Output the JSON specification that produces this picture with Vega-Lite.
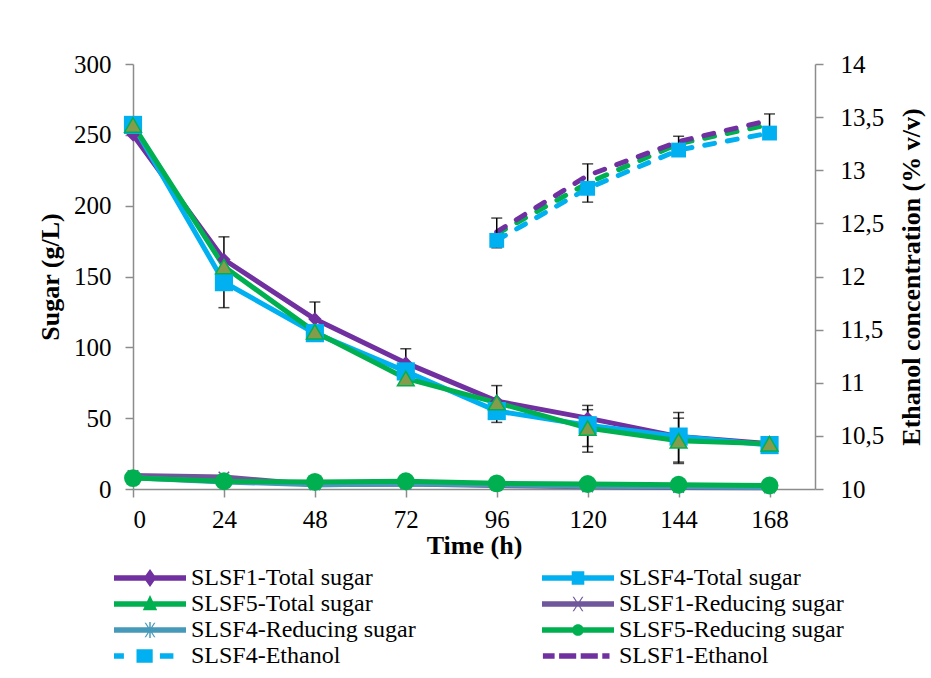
{
  "$schema": "https://vega.github.io/schema/vega-lite/v6.json",
  "width": 682,
  "height": 425,
  "autosize": {"type": "none"},
  "padding": {"left": 133, "top": 64, "right": 116, "bottom": 189},
  "background": "white",
  "config": {
    "view": {"stroke": null},
    "font": "Times New Roman, Liberation Serif, serif",
    "axis": {
      "grid": false,
      "domainColor": "#8c8c8c",
      "domainWidth": 1.5,
      "tickColor": "#8c8c8c",
      "tickWidth": 1.5,
      "tickSize": 8,
      "labelFont": "Times New Roman, Liberation Serif, serif",
      "labelFontSize": 25,
      "labelColor": "black",
      "titleFont": "Times New Roman, Liberation Serif, serif",
      "titleFontSize": 26,
      "titleFontWeight": "bold",
      "titleColor": "black",
      "titleLimit": 1000
    },
    "legend": {
      "orient": "none",
      "legendX": 5,
      "legendY": 502,
      "columns": 2,
      "columnPadding": 126,
      "rowPadding": 2,
      "padding": 0,
      "labelFont": "Times New Roman, Liberation Serif, serif",
      "labelFontSize": 24,
      "labelColor": "black",
      "labelOffset": 29,
      "labelLimit": 500,
      "symbolSize": 324,
      "symbolStrokeWidth": 0
    }
  },
  "datasets": {
    "sugar": [
      {"t": 0, "s": "SLSF1-Total sugar", "v": 250},
      {"t": 24, "s": "SLSF1-Total sugar", "v": 162},
      {"t": 48, "s": "SLSF1-Total sugar", "v": 120},
      {"t": 72, "s": "SLSF1-Total sugar", "v": 89},
      {"t": 96, "s": "SLSF1-Total sugar", "v": 62},
      {"t": 120, "s": "SLSF1-Total sugar", "v": 50},
      {"t": 144, "s": "SLSF1-Total sugar", "v": 37},
      {"t": 168, "s": "SLSF1-Total sugar", "v": 32},
      {"t": 0, "s": "SLSF4-Total sugar", "v": 257},
      {"t": 24, "s": "SLSF4-Total sugar", "v": 146},
      {"t": 48, "s": "SLSF4-Total sugar", "v": 110},
      {"t": 72, "s": "SLSF4-Total sugar", "v": 83},
      {"t": 96, "s": "SLSF4-Total sugar", "v": 55},
      {"t": 120, "s": "SLSF4-Total sugar", "v": 45},
      {"t": 144, "s": "SLSF4-Total sugar", "v": 37},
      {"t": 168, "s": "SLSF4-Total sugar", "v": 31},
      {"t": 0, "s": "SLSF5-Total sugar", "v": 257},
      {"t": 24, "s": "SLSF5-Total sugar", "v": 157},
      {"t": 48, "s": "SLSF5-Total sugar", "v": 111},
      {"t": 72, "s": "SLSF5-Total sugar", "v": 78},
      {"t": 96, "s": "SLSF5-Total sugar", "v": 61},
      {"t": 120, "s": "SLSF5-Total sugar", "v": 43},
      {"t": 144, "s": "SLSF5-Total sugar", "v": 34},
      {"t": 168, "s": "SLSF5-Total sugar", "v": 32},
      {"t": 0, "s": "SLSF1-Reducing sugar", "v": 9.5},
      {"t": 24, "s": "SLSF1-Reducing sugar", "v": 8.5},
      {"t": 48, "s": "SLSF1-Reducing sugar", "v": 3},
      {"t": 72, "s": "SLSF1-Reducing sugar", "v": 3.5},
      {"t": 96, "s": "SLSF1-Reducing sugar", "v": 2.5},
      {"t": 120, "s": "SLSF1-Reducing sugar", "v": 1.5},
      {"t": 144, "s": "SLSF1-Reducing sugar", "v": 1},
      {"t": 168, "s": "SLSF1-Reducing sugar", "v": 0.8},
      {"t": 0, "s": "SLSF4-Reducing sugar", "v": 8},
      {"t": 24, "s": "SLSF4-Reducing sugar", "v": 5},
      {"t": 48, "s": "SLSF4-Reducing sugar", "v": 3},
      {"t": 72, "s": "SLSF4-Reducing sugar", "v": 3.5},
      {"t": 96, "s": "SLSF4-Reducing sugar", "v": 3},
      {"t": 120, "s": "SLSF4-Reducing sugar", "v": 2},
      {"t": 144, "s": "SLSF4-Reducing sugar", "v": 1.5},
      {"t": 168, "s": "SLSF4-Reducing sugar", "v": 1},
      {"t": 0, "s": "SLSF5-Reducing sugar", "v": 7.7},
      {"t": 24, "s": "SLSF5-Reducing sugar", "v": 5.5},
      {"t": 48, "s": "SLSF5-Reducing sugar", "v": 5},
      {"t": 72, "s": "SLSF5-Reducing sugar", "v": 5.5},
      {"t": 96, "s": "SLSF5-Reducing sugar", "v": 4},
      {"t": 120, "s": "SLSF5-Reducing sugar", "v": 3.5},
      {"t": 144, "s": "SLSF5-Reducing sugar", "v": 3},
      {"t": 168, "s": "SLSF5-Reducing sugar", "v": 2.5}
    ],
    "sugarErr": [
      {"t": 24, "lo": 128, "hi": 178},
      {"t": 48, "lo": 108, "hi": 132},
      {"t": 72, "lo": 78, "hi": 99},
      {"t": 96, "lo": 47, "hi": 73},
      {"t": 120, "lo": 26, "hi": 59},
      {"t": 120, "lo": 30, "hi": 56},
      {"t": 144, "lo": 18, "hi": 54},
      {"t": 144, "lo": 19, "hi": 50}
    ],
    "ethanol": [
      {"t": 96, "s": "SLSF4-Ethanol", "v": 12.34},
      {"t": 120, "s": "SLSF4-Ethanol", "v": 12.83},
      {"t": 144, "s": "SLSF4-Ethanol", "v": 13.19},
      {"t": 168, "s": "SLSF4-Ethanol", "v": 13.35},
      {"t": 96, "s": "SLSF5-Ethanol", "v": 12.4},
      {"t": 120, "s": "SLSF5-Ethanol", "v": 12.88},
      {"t": 144, "s": "SLSF5-Ethanol", "v": 13.25},
      {"t": 168, "s": "SLSF5-Ethanol", "v": 13.43},
      {"t": 96, "s": "SLSF1-Ethanol", "v": 12.42},
      {"t": 120, "s": "SLSF1-Ethanol", "v": 12.95},
      {"t": 144, "s": "SLSF1-Ethanol", "v": 13.27},
      {"t": 168, "s": "SLSF1-Ethanol", "v": 13.47}
    ],
    "ethErr": [
      {"t": 96, "lo": 12.27, "hi": 12.55},
      {"t": 120, "lo": 12.7, "hi": 13.06},
      {"t": 144, "lo": 13.2, "hi": 13.32},
      {"t": 168, "lo": 13.4, "hi": 13.53}
    ]
  },
  "layer": [
    {
      "layer": [
        {
          "data": {"name": "sugar"},
          "layer": [
            {
              "mark": {"type": "line", "strokeWidth": 5},
              "encoding": {
                "x": {"field": "t", "type": "quantitative", "scale": {"domain": [0, 168]},
                  "axis": {"values": [0, 24, 48, 72, 96, 120, 144, 168], "title": "Time (h)", "labelPadding": 10, "titlePadding": 0}},
                "y": {"field": "v", "type": "quantitative", "scale": {"domain": [0, 300]},
                  "axis": {"values": [0, 50, 100, 150, 200, 250, 300], "title": "Sugar (g/L)", "labelPadding": 14, "titlePadding": 10}},
                "stroke": {"field": "s", "type": "nominal", "legend": null,
                  "scale": {
                    "domain": ["SLSF1-Total sugar", "SLSF4-Total sugar", "SLSF5-Total sugar", "SLSF1-Reducing sugar", "SLSF4-Reducing sugar", "SLSF5-Reducing sugar", "SLSF1-Ethanol", "SLSF4-Ethanol", "SLSF5-Ethanol"],
                    "range": ["#7030A0", "#00B0F0", "#00B050", "#70569B", "#4699B8", "#00B050", "#7030A0", "#00B0F0", "#00B050"]
                  }}
              }
            },
            {
              "data": {"name": "sugarErr"},
              "mark": {"type": "rule", "color": "black", "strokeWidth": 1.5},
              "encoding": {
                "x": {"field": "t", "type": "quantitative"},
                "y": {"field": "lo", "type": "quantitative", "title": "Sugar (g/L)"},
                "y2": {"field": "hi"}
              }
            },
            {
              "data": {"name": "sugarErr"},
              "mark": {"type": "tick", "orient": "horizontal", "color": "black", "size": 11, "thickness": 1.5},
              "encoding": {
                "x": {"field": "t", "type": "quantitative"},
                "y": {"field": "lo", "type": "quantitative", "title": "Sugar (g/L)"}
              }
            },
            {
              "data": {"name": "sugarErr"},
              "mark": {"type": "tick", "orient": "horizontal", "color": "black", "size": 11, "thickness": 1.5},
              "encoding": {
                "x": {"field": "t", "type": "quantitative"},
                "y": {"field": "hi", "type": "quantitative", "title": "Sugar (g/L)"}
              }
            },
            {
              "transform": [{"filter": "datum.s == 'SLSF1-Total sugar'"}],
              "mark": {"type": "point", "shape": "diamond", "filled": true, "color": "#7030A0", "size": 180, "opacity": 1},
              "encoding": {
                "x": {"field": "t", "type": "quantitative"},
                "y": {"field": "v", "type": "quantitative", "title": "Sugar (g/L)"}
              }
            },
            {
              "transform": [{"filter": "datum.s == 'SLSF4-Total sugar'"}],
              "mark": {"type": "point", "shape": "square", "filled": true, "color": "#00B0F0", "size": 330, "opacity": 1},
              "encoding": {
                "x": {"field": "t", "type": "quantitative"},
                "y": {"field": "v", "type": "quantitative", "title": "Sugar (g/L)"}
              }
            },
            {
              "transform": [{"filter": "datum.s == 'SLSF5-Total sugar'"}],
              "mark": {"type": "point", "shape": "triangle-up", "filled": true, "fill": "#859C4C", "stroke": "#00B050", "strokeWidth": 1.5, "size": 280, "opacity": 1},
              "encoding": {
                "x": {"field": "t", "type": "quantitative"},
                "y": {"field": "v", "type": "quantitative", "title": "Sugar (g/L)"}
              }
            },
            {
              "transform": [{"filter": "datum.s == 'SLSF1-Reducing sugar'"}],
              "mark": {"type": "point", "shape": "M-1,-1L1,1M-1,1L1,-1", "filled": false, "color": "#70569B", "strokeWidth": 1.5, "size": 110, "opacity": 1},
              "encoding": {
                "x": {"field": "t", "type": "quantitative"},
                "y": {"field": "v", "type": "quantitative", "title": "Sugar (g/L)"}
              }
            },
            {
              "transform": [{"filter": "datum.s == 'SLSF4-Reducing sugar'"}],
              "mark": {"type": "point", "shape": "M-1,-1L1,1M-1,1L1,-1M0,-1.2L0,1.2", "filled": false, "color": "#4699B8", "strokeWidth": 1.5, "size": 110, "opacity": 1},
              "encoding": {
                "x": {"field": "t", "type": "quantitative"},
                "y": {"field": "v", "type": "quantitative", "title": "Sugar (g/L)"}
              }
            },
            {
              "transform": [{"filter": "datum.s == 'SLSF5-Reducing sugar'"}],
              "mark": {"type": "point", "shape": "circle", "filled": true, "color": "#00B050", "size": 320, "opacity": 1},
              "encoding": {
                "x": {"field": "t", "type": "quantitative"},
                "y": {"field": "v", "type": "quantitative", "title": "Sugar (g/L)"}
              }
            }
          ]
        },
        {
          "data": {"name": "ethanol"},
          "layer": [
            {
              "mark": {"type": "line", "strokeWidth": 5, "strokeDash": [10, 13], "strokeCap": "round"},
              "encoding": {
                "x": {"field": "t", "type": "quantitative"},
                "y": {"field": "v", "type": "quantitative", "scale": {"domain": [10, 14]},
                  "axis": {"orient": "right", "values": [10, 10.5, 11, 11.5, 12, 12.5, 13, 13.5, 14],
                    "labelExpr": "replace(toString(datum.value), '.', ',')",
                    "title": "Ethanol concentration (% v/v)", "titleAngle": 270, "titleBaseline": "top", "labelPadding": 17, "titlePadding": 15}},
                "stroke": {"field": "s", "type": "nominal", "legend": null}
              }
            },
            {
              "data": {"name": "ethErr"},
              "mark": {"type": "rule", "color": "black", "strokeWidth": 1.5},
              "encoding": {
                "x": {"field": "t", "type": "quantitative"},
                "y": {"field": "lo", "type": "quantitative", "title": "Ethanol concentration (% v/v)"},
                "y2": {"field": "hi"}
              }
            },
            {
              "data": {"name": "ethErr"},
              "mark": {"type": "tick", "orient": "horizontal", "color": "black", "size": 11, "thickness": 1.5},
              "encoding": {
                "x": {"field": "t", "type": "quantitative"},
                "y": {"field": "lo", "type": "quantitative", "title": "Ethanol concentration (% v/v)"}
              }
            },
            {
              "data": {"name": "ethErr"},
              "mark": {"type": "tick", "orient": "horizontal", "color": "black", "size": 11, "thickness": 1.5},
              "encoding": {
                "x": {"field": "t", "type": "quantitative"},
                "y": {"field": "hi", "type": "quantitative", "title": "Ethanol concentration (% v/v)"}
              }
            },
            {
              "transform": [{"filter": "datum.s == 'SLSF4-Ethanol'"}],
              "mark": {"type": "point", "shape": "square", "filled": true, "color": "#00B0F0", "size": 220, "opacity": 1},
              "encoding": {
                "x": {"field": "t", "type": "quantitative"},
                "y": {"field": "v", "type": "quantitative", "title": "Ethanol concentration (% v/v)"}
              }
            }
          ]
        }
      ],
      "resolve": {"scale": {"y": "independent"}}
    },
    {
      "data": {"name": "sugar"},
      "transform": [{"filter": "datum.t < 0"}],
      "mark": {"type": "point", "filled": true, "opacity": 1},
      "encoding": {
        "color": {"field": "s", "type": "nominal",
          "scale": {
            "domain": ["SLSF1-Total sugar", "SLSF5-Total sugar", "SLSF4-Reducing sugar", "SLSF4-Ethanol", "SLSF4-Total sugar", "SLSF1-Reducing sugar", "SLSF5-Reducing sugar", "SLSF1-Ethanol"],
            "range": ["#7030A0", "#00B050", "#4699B8", "#00B0F0", "#00B0F0", "#70569B", "#00B050", "#7030A0"]
          },
          "legend": {"title": null}},
        "shape": {"field": "s", "type": "nominal",
          "scale": {
            "domain": ["SLSF1-Total sugar", "SLSF5-Total sugar", "SLSF4-Reducing sugar", "SLSF4-Ethanol", "SLSF4-Total sugar", "SLSF1-Reducing sugar", "SLSF5-Reducing sugar", "SLSF1-Ethanol"],
            "range": [
              "M-4,-0.3H4V0.3H-4Z M0,-1L0.7,0L0,1L-0.7,0Z",
              "M-4,-0.3H4V0.3H-4Z M0,-1L0.8,0.7H-0.8Z",
              "M-4,-0.3H4V0.3H-4Z M-0.6,-0.8L-0.45,-0.8L0.6,0.8L0.45,0.8Z M0.45,-0.8L0.6,-0.8L-0.45,0.8L-0.6,0.8Z M-0.08,-0.9H0.08V0.9H-0.08Z",
              "M-4,-0.3H-2.9V0.3H-4Z M-1.5,-0.75H0.3V0.75H-1.5Z M1.1,-0.3H2.6V0.3H1.1Z",
              "M-4,-0.3H4V0.3H-4Z M-0.7,-0.75H0.7V0.75H-0.7Z",
              "M-4,-0.3H4V0.3H-4Z M-0.6,-0.8L-0.45,-0.8L0.6,0.8L0.45,0.8Z M0.45,-0.8L0.6,-0.8L-0.45,0.8L-0.6,0.8Z",
              "M-4,-0.3H4V0.3H-4Z M-0.65,0A0.65,0.65,0,1,1,0.65,0A0.65,0.65,0,1,1,-0.65,0Z",
              "M-3.9,-0.3H-2.6V0.3H-3.9Z M-2.1,-0.3H-0.2V0.3H-2.1Z M0.3,-0.3H2.2V0.3H0.3Z M2.7,-0.3H3.5V0.3H2.7Z"
            ]
          },
          "legend": {"title": null}}
      }
    }
  ]
}
